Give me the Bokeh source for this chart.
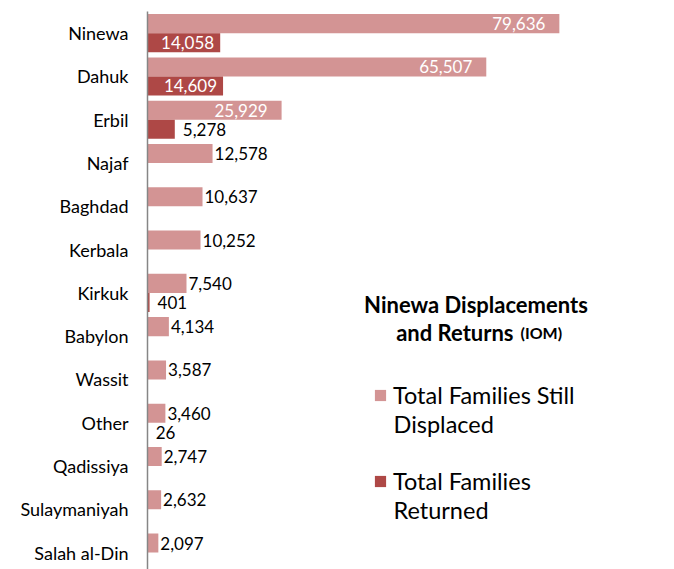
from bokeh.plotting import figure
from bokeh.models import (ColumnDataSource, Range1d, FixedTicker, Label,
                          Legend, LegendItem)
from bokeh.transform import dodge
from bokeh.core.properties import value
from bokeh.embed import file_html
from bokeh.resources import INLINE

# ---- data ----
categories = ["Ninewa", "Dahuk", "Erbil", "Najaf", "Baghdad", "Kerbala", "Kirkuk",
              "Babylon", "Wassit", "Other", "Qadissiya", "Sulaymaniyah", "Salah al-Din"]
displaced = [79636, 65507, 25929, 12578, 10637, 10252, 7540,
             4134, 3587, 3460, 2747, 2632, 2097]
returned = [14058, 14609, 5278, None, None, None, 401,
            None, None, 26, None, None, None]

legend_line1 = ["Total Families Still", "Total Families"]
legend_line2 = ["Displaced", "Returned"]
title_line1 = "Ninewa Displacements"
title_line2 = "and Returns"
title_note = "(IOM)"

C_DISP = "#D39494"
C_RET = "#AE4846"
FONT = "Lato"
INSIDE_MIN = 13000

n = len(categories)
pos = [n - 1 - i for i in range(n)]

disp_src = ColumnDataSource(dict(pos=pos, val=displaced))
r_pos = [p_ for p_, v in zip(pos, returned) if v is not None]
r_val = [v for v in returned if v is not None]
ret_src = ColumnDataSource(dict(pos=r_pos, val=r_val))

def subset(pos_, vals, inside):
    keep = [(p_, v) for p_, v in zip(pos_, vals) if (v >= INSIDE_MIN) == inside]
    return ColumnDataSource(dict(pos=[k[0] for k in keep], val=[k[1] for k in keep],
                                 lab=[f"{k[1]:,}" for k in keep]))

p = figure(width=674, height=569, output_backend="svg", toolbar_location=None,
           x_range=Range1d(0, 101900), y_range=Range1d(-0.39, n - 0.5),
           x_axis_location=None, min_border_left=147, min_border_right=0,
           min_border_top=11, min_border_bottom=0)
p.outline_line_color = None
p.xgrid.visible = False
p.ygrid.visible = False
p.background_fill_color = "white"
p.border_fill_color = "white"

r1 = p.hbar(y=dodge("pos", 0.22, range=p.y_range), left=0, right="val", height=0.44,
            source=disp_src, fill_color=C_DISP, line_color=None)
r2 = p.hbar(y=dodge("pos", -0.22, range=p.y_range), left=0, right="val", height=0.44,
            source=ret_src, fill_color=C_RET, line_color=None)

common = dict(text_font=value(FONT), text_font_size="17px", text_baseline="middle")
p.text(x="val", y=dodge("pos", 0.22, range=p.y_range), text="lab",
       source=subset(pos, displaced, True), text_align="right", x_offset=-14,
       text_color="white", **common)
p.text(x="val", y=dodge("pos", 0.22, range=p.y_range), text="lab",
       source=subset(pos, displaced, False), text_align="left", x_offset=2,
       text_color="black", **common)
p.text(x="val", y=dodge("pos", -0.22, range=p.y_range), text="lab",
       source=subset(r_pos, r_val, True), text_align="right", x_offset=-6,
       text_color="white", **common)
p.text(x="val", y=dodge("pos", -0.22, range=p.y_range), text="lab",
       source=subset(r_pos, r_val, False), text_align="left", x_offset=8,
       text_color="black", **common)

ax = p.yaxis[0]
ax.ticker = FixedTicker(ticks=pos)
ax.major_label_overrides = {p_: c for p_, c in zip(pos, categories)}
ax.major_tick_line_color = None
ax.minor_tick_line_color = None
ax.major_tick_out = 0
ax.major_label_standoff = 19
ax.major_label_text_font = FONT
ax.major_label_text_font_size = "18px"
ax.major_label_text_color = "black"
ax.axis_line_color = "#868686"
ax.axis_line_width = 1.5

def lab(x, y, text, size, align, bold=True):
    p.add_layout(Label(x=x, y=y, x_units="screen", y_units="screen", text=text,
                       text_font=FONT, text_font_size=size,
                       text_font_style="bold" if bold else "normal",
                       text_align=align, text_baseline="alphabetic", text_color="black"))

# title
lab(328.5, 265, title_line1, "22px", "center")
lab(366, 237, title_line2, "22px", "right")
lab(373, 237, title_note, "16px", "left")

legend = Legend(items=[LegendItem(label=legend_line1[0], renderers=[r1]),
                       LegendItem(label=legend_line1[1], renderers=[r2])],
                location=(226, 74), orientation="vertical",
                glyph_width=14, glyph_height=14, label_standoff=6, spacing=58,
                padding=0, margin=0, border_line_color=None,
                background_fill_alpha=0, label_text_font=FONT,
                label_text_font_size="23.5px", label_text_color="black")
p.add_layout(legend)
# second lines of the legend entries
lab(246, 146, legend_line2[0], "23.5px", "left", bold=False)
lab(246, 60, legend_line2[1], "23.5px", "left", bold=False)

open("out.html", "w").write(file_html(p, INLINE))
